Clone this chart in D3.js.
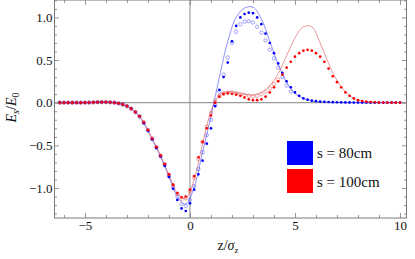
<!DOCTYPE html>
<html>
<head>
<meta charset="utf-8">
<script src="https://cdn.jsdelivr.net/npm/d3@7"></script>
<style>
  html, body { margin: 0; padding: 0; background: #fff; }
  svg { display: block; }
</style>
</head>
<body>
<svg id="chart" width="415" height="259"></svg>
<script>
// ---------------- DATA ----------------
// sampling grids (z / sigma_z)
const zDots   = d3.range(-6.2, 10.001, 0.2);   // 82 samples
const zOpen80 = d3.range(-6.2, 4.801, 0.2);    // 56 samples
const zOpen100 = d3.range(-6.2, 4.201, 0.2);   // 53 samples
const zLine   = d3.range(-6.2, 9.801, 0.4);    // 41 samples

// s = 80cm, filled dots
const s80Dots = [
  0, 0, 0, 0, 0, 0, 0.001, 0.002, 0.004, 0.006,
  0.007, 0.007, 0.005, 0.0, -0.008, -0.02, -0.04, -0.07, -0.11, -0.16,
  -0.24, -0.33, -0.43, -0.53, -0.63, -0.74, -0.87, -1.01, -1.14, -1.24,
  -1.27, -1.18, -1.02, -0.84, -0.68, -0.48, -0.3, -0.04, 0.15, 0.3,
  0.47, 0.72, 0.9, 1.0, 1.04, 1.055, 1.05, 1.0, 0.92, 0.81,
  0.7, 0.58, 0.46, 0.35, 0.25, 0.18, 0.12, 0.08, 0.05, 0.035,
  0.025, 0.018, 0.013, 0.01, 0.008, 0.006, 0.005, 0.004, 0.003, 0.003,
  0.002, 0.002, 0.001, 0.001, 0.001, 0.001, 0.001, 0.001, 0.001, 0.001,
  0.001, 0.001
];
// s = 100cm, filled dots
const s100Dots = [
  0, 0, 0, 0, 0, 0, 0.001, 0.002, 0.004, 0.006,
  0.007, 0.007, 0.005, 0.0, -0.008, -0.02, -0.04, -0.07, -0.11, -0.16,
  -0.23, -0.32, -0.42, -0.52, -0.62, -0.72, -0.84, -0.96, -1.06, -1.11,
  -1.1, -1.02, -0.86, -0.64, -0.46, -0.3, -0.15, 0.0, 0.07, 0.1,
  0.11, 0.105, 0.095, 0.08, 0.06, 0.04, 0.03, 0.03, 0.04, 0.07,
  0.12, 0.18, 0.25, 0.33, 0.41, 0.48, 0.54, 0.58, 0.61, 0.62,
  0.61, 0.58, 0.54, 0.48, 0.4, 0.31, 0.24, 0.18, 0.12, 0.08,
  0.05, 0.03, 0.02, 0.012, 0.008, 0.005, 0.003, 0.002, 0.001, 0.001,
  0, 0
];
// s = 80cm, open circles
const s80Open = [
  0, 0, 0, 0, 0, 0, 0.001, 0.002, 0.004, 0.006,
  0.007, 0.007, 0.005, 0.0, -0.008, -0.02, -0.04, -0.07, -0.11, -0.16,
  -0.235, -0.325, -0.425, -0.525, -0.625, -0.73, -0.86, -0.99, -1.1, -1.19,
  -1.21, -1.14, -0.98, -0.78, -0.58, -0.38, -0.2, -0.03, 0.13, 0.33,
  0.53, 0.7, 0.83, 0.92, 0.95, 0.955, 0.94, 0.89, 0.82, 0.73,
  0.62, 0.52, 0.41, 0.3, 0.2, 0.13
];
// s = 100cm, open circles
const s100Open = [
  0, 0, 0, 0, 0, 0, 0.001, 0.002, 0.004, 0.006,
  0.007, 0.007, 0.005, 0.0, -0.008, -0.02, -0.04, -0.07, -0.11, -0.16,
  -0.23, -0.32, -0.42, -0.52, -0.62, -0.72, -0.845, -0.97, -1.07, -1.13,
  -1.12, -1.04, -0.88, -0.66, -0.46, -0.28, -0.12, 0.02, 0.08, 0.11,
  0.12, 0.12, 0.11, 0.1, 0.09, 0.08, 0.075, 0.08, 0.1, 0.13,
  0.17, 0.22, 0.27
];
// thin lines
const s80Line = [
  0, 0, 0, 0.001, 0.004, 0.007, 0.005, -0.008, -0.04, -0.11,
  -0.24, -0.43, -0.63, -0.87, -1.1, -1.19, -0.99, -0.58, -0.16, 0.3,
  0.72, 1.0, 1.11, 1.12, 0.98, 0.72, 0.45, 0.24, 0.11, 0.05,
  0.02, 0.01, 0.005, 0.002, 0, 0, 0, 0, 0, 0, 0
];
const s100Line = [
  0, 0, 0, 0.001, 0.004, 0.007, 0.005, -0.008, -0.04, -0.11,
  -0.23, -0.42, -0.62, -0.85, -1.06, -1.12, -0.9, -0.48, -0.1, 0.09,
  0.13, 0.12, 0.1, 0.09, 0.12, 0.2, 0.34, 0.55, 0.76, 0.89,
  0.89, 0.7, 0.46, 0.26, 0.13, 0.05, 0.02, 0.008, 0.003, 0, 0
];

const xMajor = [-5, 0, 5, 10];
const xMinor = d3.range(-6, 11, 1).filter(v => !xMajor.includes(v));
const yMajor = [-1, -0.5, 0, 0.5, 1];
const yMinor = d3.range(-13, 13, 1).map(v => v / 10).filter(v => !yMajor.some(m => Math.abs(m - v) < 1e-9));
const legendLabels = ["s = 80cm", "s = 100cm"];
const colors = ["#0000ff", "#ff0000"];

const FONT = '"Liberation Serif", "Times New Roman", serif';

// ---------------- CHART ----------------
const svg = d3.select("#chart").style("font-family", FONT);
const L = 54.5, R = 406.5, T = 0, B = 218;
const x = d3.scaleLinear().domain([-6.45, 10.31]).range([L, R]);
const y = d3.scaleLinear().domain([-1.352, 1.204]).range([B, T]);
const frameColor = "#7a7a7a";

// zero lines
svg.append("line").attr("x1", L).attr("x2", R).attr("y1", y(0)).attr("y2", y(0))
  .attr("stroke", "#9a9a9a").attr("stroke-width", 1.2);
svg.append("line").attr("x1", x(0)).attr("x2", x(0)).attr("y1", T).attr("y2", B)
  .attr("stroke", "#8a8a8a").attr("stroke-width", 1);

// thin lines
const lineGen = d3.line().x(d => x(d[0])).y(d => y(d[1])).curve(d3.curveCatmullRom);
svg.append("path").datum(zLine.map((z, i) => [z, s80Line[i]]))
  .attr("d", lineGen).attr("fill", "none").attr("stroke", "#3030ff").attr("stroke-width", 0.6).attr("opacity", 0.9);
svg.append("path").datum(zLine.map((z, i) => [z, s100Line[i]]))
  .attr("d", lineGen).attr("fill", "none").attr("stroke", "#d04040").attr("stroke-width", 0.6).attr("opacity", 0.9);

// open circles
function openCircles(zs, vals, color) {
  svg.append("g").selectAll("circle").data(zs.map((z, i) => [z, vals[i]])).join("circle")
    .attr("cx", d => x(d[0])).attr("cy", d => y(d[1])).attr("r", 1.7)
    .attr("fill", "none").attr("stroke", color).attr("stroke-width", 0.55).attr("opacity", 0.85);
}
openCircles(zOpen80, s80Open, "#4040ff");
openCircles(zOpen100, s100Open, "#e04040");

// filled dots
function dots(zs, vals, color) {
  svg.append("g").selectAll("circle").data(zs.map((z, i) => [z, vals[i]])).join("circle")
    .attr("cx", d => x(d[0])).attr("cy", d => y(d[1])).attr("r", 1.35)
    .attr("fill", color);
}
dots(zDots, s80Dots, colors[0]);
dots(zDots, s100Dots, colors[1]);

// frame
svg.append("rect").attr("x", L).attr("y", T).attr("width", R - L).attr("height", B - T)
  .attr("fill", "none").attr("stroke", frameColor).attr("stroke-width", 1);

function styleAxis(g) {
  g.attr("font-family", null);
  g.select(".domain").remove();
  g.selectAll(".tick line").attr("stroke", frameColor).attr("stroke-width", 0.8);
  g.selectAll("text").attr("font-size", 13).attr("fill", "#111").style("font-family", FONT);
}
const fmtY = d3.format(".1f");
const fmtX = d3.format("d");
// bottom
svg.append("g").attr("transform", `translate(0,${B})`)
  .call(d3.axisBottom(x).tickValues(xMajor).tickSize(-5).tickPadding(3).tickFormat(fmtX)).call(styleAxis);
svg.append("g").attr("transform", `translate(0,${B})`)
  .call(d3.axisBottom(x).tickValues(xMinor).tickSize(-3).tickFormat("")).call(styleAxis);
// top
svg.append("g").attr("transform", `translate(0,${T})`)
  .call(d3.axisTop(x).tickValues(xMajor).tickSize(-5).tickFormat("")).call(styleAxis);
svg.append("g").attr("transform", `translate(0,${T})`)
  .call(d3.axisTop(x).tickValues(xMinor).tickSize(-3).tickFormat("")).call(styleAxis);
// left
svg.append("g").attr("transform", `translate(${L},0)`)
  .call(d3.axisLeft(y).tickValues(yMajor).tickSize(-4.5).tickPadding(2).tickFormat(fmtY)).call(styleAxis);
svg.append("g").attr("transform", `translate(${L},0)`)
  .call(d3.axisLeft(y).tickValues(yMinor).tickSize(-2.5).tickFormat("")).call(styleAxis);
// right
svg.append("g").attr("transform", `translate(${R},0)`)
  .call(d3.axisRight(y).tickValues(yMajor).tickSize(-4.5).tickFormat("")).call(styleAxis);
svg.append("g").attr("transform", `translate(${R},0)`)
  .call(d3.axisRight(y).tickValues(yMinor).tickSize(-2.5).tickFormat("")).call(styleAxis);

// axis labels
const yl = svg.append("text").attr("transform", "translate(15.5,107.5) rotate(-90)")
  .attr("text-anchor", "middle").attr("font-size", 14).attr("fill", "#111").style("font-family", FONT);
yl.append("tspan").attr("font-style", "italic").text("E");
yl.append("tspan").attr("font-style", "italic").attr("font-size", 10).attr("dy", 3).text("s");
yl.append("tspan").attr("dy", -3).text("/");
yl.append("tspan").attr("font-style", "italic").text("E");
yl.append("tspan").attr("font-size", 10).attr("dy", 3).text("0");

const xl = svg.append("text").attr("x", 228).attr("y", 250)
  .attr("text-anchor", "middle").attr("font-size", 14).attr("fill", "#111").style("font-family", FONT);
xl.append("tspan").text("z/");
xl.append("tspan").attr("font-style", "italic").text("σ");
xl.append("tspan").attr("font-size", 9).attr("dy", 3).text("z");

// legend
const lg = svg.append("g");
legendLabels.forEach((lab, i) => {
  lg.append("rect").attr("x", 287).attr("y", 141 + i * 28).attr("width", 26).attr("height", 24)
    .attr("fill", colors[i]);
  lg.append("text").attr("x", 317).attr("y", 158 + i * 28.5).attr("font-size", 15)
    .attr("fill", "#111").style("font-family", FONT).text(lab);
});
</script>
</body>
</html>
